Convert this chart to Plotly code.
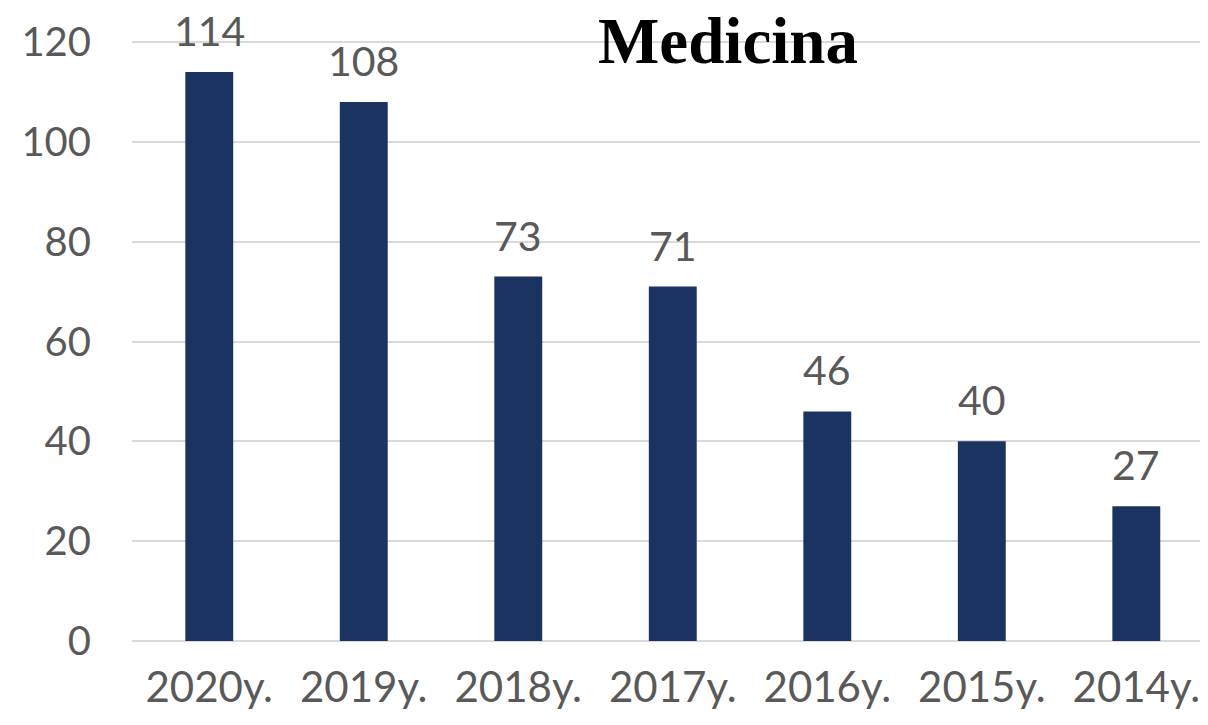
import plotly.graph_objects as go

categories = ["2020y.", "2019y.", "2018y.", "2017y.", "2016y.", "2015y.", "2014y."]
values = [114, 108, 73, 71, 46, 40, 27]
y_ticks = [0, 20, 40, 60, 80, 100, 120]
title_text = "Medicina"

TEXT = "#595959"
FONT = "Lato"

# the page body adds an 8px offset, so the figure is sized to fit the viewport
W, H = 1200, 717
L, R, T, B = 124, 0, 29, 84
pw, ph = W - L - R, H - T - B

fig = go.Figure()
fig.add_trace(go.Bar(
    x=categories, y=values,
    marker=dict(color="#1B3360", line=dict(width=0)),
    hoverinfo="x+y",
))

for c, v in zip(categories, values):
    fig.add_annotation(
        x=c, y=v, text=str(v), showarrow=False,
        yanchor="bottom", yshift=15,
        font=dict(family=FONT, size=41, color=TEXT),
    )

fig.add_annotation(
    x=(720 - L) / pw, y=(H - B - 33) / ph, xref="paper", yref="paper",
    xanchor="center", yanchor="middle",
    text="<b>" + title_text + "</b>", showarrow=False,
    font=dict(family="Liberation Serif", size=65, color="#000000"),
)

fig.update_layout(
    width=W, height=H,
    margin=dict(l=L, r=R, t=T, b=B, pad=0),
    plot_bgcolor="white", paper_bgcolor="white",
    bargap=0.69,
    showlegend=False,
    font=dict(family=FONT, color=TEXT),
)
fig.update_xaxes(
    type="category", range=[-0.5, 6.464],
    showgrid=False, showline=False, zeroline=False, ticks="",
    tickfont=dict(family=FONT, size=42, color=TEXT),
    ticklabelstandoff=18,
)
fig.update_yaxes(
    range=[0, 121], tickvals=y_ticks,
    showgrid=True, gridcolor="#D9D9D9", gridwidth=2,
    zeroline=True, zerolinecolor="#D9D9D9", zerolinewidth=2,
    showline=False, ticks="",
    tickfont=dict(family=FONT, size=40, color=TEXT),
    ticklabelstandoff=40,
)
fig.write_html("out.html")
